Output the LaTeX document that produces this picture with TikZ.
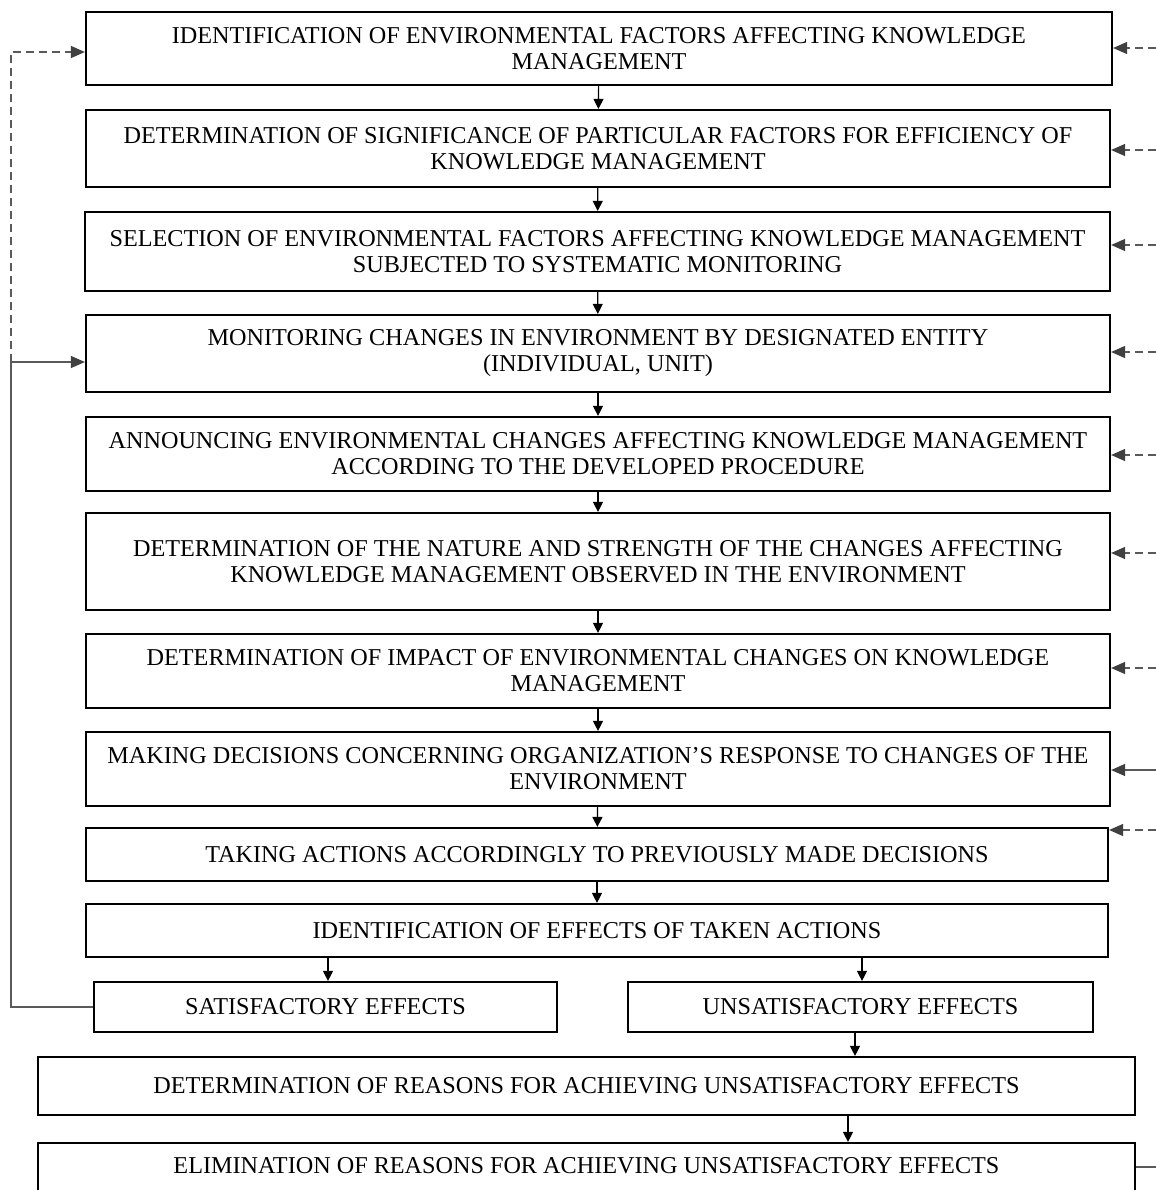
\documentclass[tikz,border=0pt]{standalone}
\usepackage{fontspec}
\setmainfont{Liberation Serif}
\usetikzlibrary{arrows.meta}
\definecolor{linkgray}{HTML}{5A5A5A}
\definecolor{tipgray}{HTML}{404040}
\begin{document}
\begin{tikzpicture}[x=0.5pt,y=0.5pt,
  stagebox/.style={draw=black,line width=1.1pt,rectangle,inner sep=0pt,align=center,
    font=\fontsize{12.1}{13}\selectfont},
  flow/.style={draw=black,line width=0.6pt,-{Triangle[length=5pt,width=5pt]}},
  sidearrow/.style={draw=linkgray,line width=0.6pt,-{Triangle[length=7pt,width=6pt,color=tipgray]}},
  sidedash/.style={sidearrow,dash pattern=on 4pt off 2.5pt},
  sideline/.style={draw=linkgray,line width=0.6pt}]
\useasboundingbox (0,0) rectangle (1156,-1190);

% main sequence of stages (sizes in pt, half the coordinate units)
\node[stagebox,minimum width=513pt,minimum height=36.5pt] (b1) at (599,-48.5)
  {IDENTIFICATION OF ENVIRONMENTAL FACTORS AFFECTING KNOWLEDGE\\MANAGEMENT};
\node[stagebox,minimum width=512pt,minimum height=38.5pt] (b2) at (598,-148.5)
  {DETERMINATION OF SIGNIFICANCE OF PARTICULAR FACTORS FOR EFFICIENCY OF\\KNOWLEDGE MANAGEMENT};
\node[stagebox,minimum width=512.5pt,minimum height=39.5pt] (b3) at (597.5,-251.5)
  {SELECTION OF ENVIRONMENTAL FACTORS AFFECTING KNOWLEDGE MANAGEMENT\\SUBJECTED TO SYSTEMATIC MONITORING};
\node[stagebox,minimum width=512pt,minimum height=38.5pt] (b4) at (598,-353.5)
  {MONITORING CHANGES IN ENVIRONMENT BY DESIGNATED ENTITY\\(INDIVIDUAL, UNIT)};
\node[stagebox,minimum width=512pt,minimum height=37pt] (b5) at (598,-454)
  {ANNOUNCING ENVIRONMENTAL CHANGES AFFECTING KNOWLEDGE MANAGEMENT\\ACCORDING TO THE DEVELOPED PROCEDURE};
\node[stagebox,minimum width=512pt,minimum height=48.5pt] (b6) at (598,-561.5)
  {DETERMINATION OF THE NATURE AND STRENGTH OF THE CHANGES AFFECTING\\KNOWLEDGE MANAGEMENT OBSERVED IN THE ENVIRONMENT};
\node[stagebox,minimum width=512pt,minimum height=37pt] (b7) at (598,-671)
  {DETERMINATION OF IMPACT OF ENVIRONMENTAL CHANGES ON KNOWLEDGE\\MANAGEMENT};
\node[stagebox,minimum width=512pt,minimum height=37pt] (b8) at (598,-769)
  {MAKING DECISIONS CONCERNING ORGANIZATION’S RESPONSE TO CHANGES OF THE\\ENVIRONMENT};
\node[stagebox,minimum width=511pt,minimum height=26.5pt] (b9) at (597,-854.5)
  {TAKING ACTIONS ACCORDINGLY TO PREVIOUSLY MADE DECISIONS};
\node[stagebox,minimum width=511pt,minimum height=26.5pt] (b10) at (597,-930.5)
  {IDENTIFICATION OF EFFECTS OF TAKEN ACTIONS};
\node[stagebox,minimum width=231.5pt,minimum height=25pt] (b11) at (325.5,-1007)
  {SATISFACTORY EFFECTS};
\node[stagebox,minimum width=232.5pt,minimum height=25pt] (b12) at (860.5,-1007)
  {UNSATISFACTORY EFFECTS};
\node[stagebox,minimum width=548.5pt,minimum height=29pt] (b13) at (586.5,-1086)
  {DETERMINATION OF REASONS FOR ACHIEVING UNSATISFACTORY EFFECTS};
\node[stagebox,minimum width=548.5pt,minimum height=46pt,text height=9pt,text depth=25pt] (b14) at (586.5,-1189)
  {ELIMINATION OF REASONS FOR ACHIEVING UNSATISFACTORY EFFECTS};

% downward flow
\draw[flow] (b1) -- (b2);
\draw[flow] (b2) -- (b3);
\draw[flow] (b3) -- (b4);
\draw[flow] (b4) -- (b5);
\draw[flow] (b5) -- (b6);
\draw[flow] (b6) -- (b7);
\draw[flow] (b7) -- (b8);
\draw[flow] (b8) -- (b9);
\draw[flow] (b9) -- (b10);
\coordinate (s1) at (328,0);
\coordinate (s2) at (862,0);
\coordinate (s3) at (855,0);
\coordinate (s4) at (848,0);
\draw[flow] (b10.south -| s1) -- (b11.north -| s1);
\draw[flow] (b10.south -| s2) -- (b12.north -| s2);
\draw[flow] (b12.south -| s3) -- (b13.north -| s3);
\draw[flow] (b13.south -| s4) -- (b14.north -| s4);

% feedback on the left
\coordinate (lk) at (11,-362);
\coordinate (lt) at (11,-52);
\draw[sidearrow] (b11.west) -| (lk) -- (lk -| b4.west);
\draw[sidedash] (lk) -- (lt) -- (lt -| b1.west);

% inputs from the right
\coordinate (r1) at (1156,-48);
\coordinate (r2) at (1156,-150);
\coordinate (r3) at (1156,-245);
\coordinate (r4) at (1156,-352);
\coordinate (r5) at (1156,-455);
\coordinate (r6) at (1156,-553);
\coordinate (r7) at (1156,-668);
\coordinate (r8) at (1156,-770);
\coordinate (r9) at (1156,-830);
\coordinate (r14) at (1156,-1167);
\draw[sidedash] (r1) -- (r1 -| b1.east);
\draw[sidedash] (r2) -- (r2 -| b2.east);
\draw[sidedash] (r3) -- (r3 -| b3.east);
\draw[sidedash] (r4) -- (r4 -| b4.east);
\draw[sidedash] (r5) -- (r5 -| b5.east);
\draw[sidedash] (r6) -- (r6 -| b6.east);
\draw[sidedash] (r7) -- (r7 -| b7.east);
\draw[sidearrow] (r8) -- (r8 -| b8.east);
\draw[sidedash] (r9) -- (r9 -| b9.east);
\draw[sideline] (b14.east |- r14) -- (r14);
\end{tikzpicture}
\end{document}
